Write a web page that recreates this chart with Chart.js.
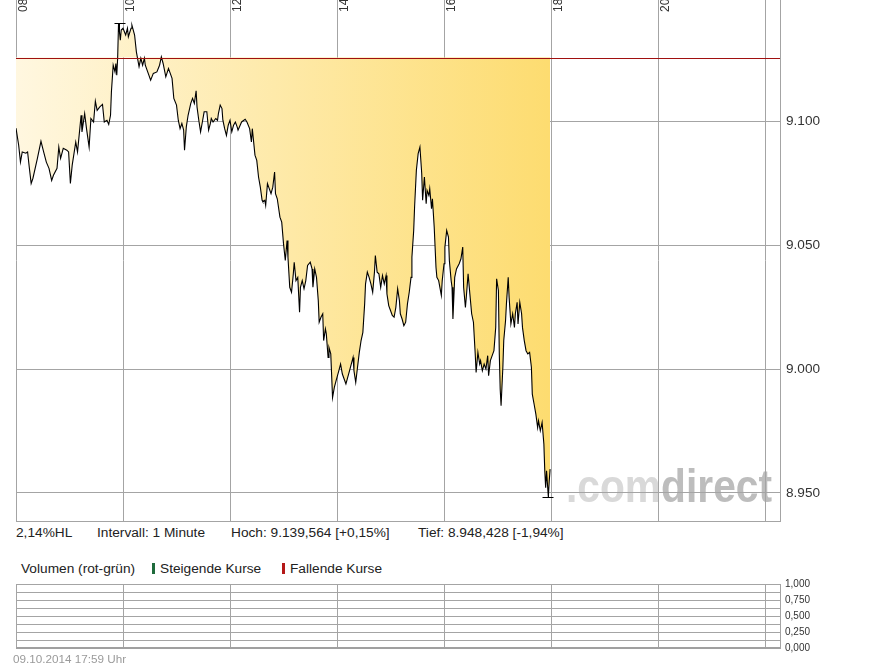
<!DOCTYPE html>
<html><head><meta charset="utf-8">
<script src="https://cdn.jsdelivr.net/npm/chart.js@4/dist/chart.umd.min.js"></script>
<style>
html,body{margin:0;padding:0;background:#fff;width:895px;height:669px;overflow:hidden;font-family:"Liberation Sans",Arial,sans-serif;}
#main{position:absolute;left:0;top:0;}
#vol{position:absolute;left:0;top:575px;}
.t{position:absolute;font-size:13.7px;line-height:15px;color:#222;white-space:nowrap;}
.bar{position:absolute;width:3px;height:11px;}
</style></head><body>
<canvas id="main" width="895" height="522"></canvas>
<div class="t" style="left:16px;top:525px">2,14%HL</div>
<div class="t" style="left:97px;top:525px">Intervall: 1 Minute</div>
<div class="t" style="left:231px;top:525px">Hoch: 9.139,564 [+0,15%]</div>
<div class="t" style="left:418px;top:525px">Tief: 8.948,428 [-1,94%]</div>
<div class="t" style="left:21px;top:561px">Volumen (rot-grün)</div>
<div class="bar" style="left:152px;top:563px;background:#1f6b3c"></div>
<div class="t" style="left:160px;top:561px">Steigende Kurse</div>
<div class="bar" style="left:282px;top:563px;background:#b41818"></div>
<div class="t" style="left:290px;top:561px">Fallende Kurse</div>
<canvas id="vol" width="895" height="80"></canvas>
<div class="t" style="left:13px;top:651px;font-size:11.7px;color:#9a9a9a">09.10.2014 17:59 Uhr</div>
<script>
// ---- data ----
const sessionStartHour = 8;
const minutes = [0,3,5,7,11,13,15,17,19,24,28,31,34,37,40,42,46,48,50,53,57,59,61,63,67,69,73,74,77,79,82,84,87,89,91,94,97,99,102,104,106,107,109,111,112,113,114,115,117,118,120,123,125,126,129,130,133,135,138,140,142,144,145,149,151,
154,158,161,163,165,168,171,173,175,177,180,182,184,186,188,189,191,193,196,198,200,202,203,205,207,209,211,214,216,218,219,221,224,226,227,229,231,232,234,236,238,240,242,244,246,248,249,253,257,259,262,264,265,268,270,272,274,276,277,279,280,282,284,286,288,290,291,293,296,298,300,302,304,305,
307,309,311,312,314,316,318,319,321,323,325,327,330,332,333,335,337,339,340,342,344,345,347,348,350,351,353,355,357,359,360,362,364,366,368,370,372,374,376,378,379,381,383,385,387,389,391,392,394,396,398,400,402,403,405,407,409,411,413,415,416,418,420,422,424,426,428,430,431,433,435,437,439,441,443,444,446,447,449,451,453,
455,456,458,460,461,463,464,466,467,469,471,472,474,477,478,480,481,483,485,486,488,489,490,492,494,497,499,501,502,504,505,507,509,511,513,515,516,518,520,521,523,525,527,529,530,532,534,536,538,539,541,542,543,544,546,547,549,550,552,553,555,557,559,560,562,563,565,567,568,570,572,574,576,578,579,581,583,585,586,588,590,592,593,594,595,597,598,599];
const prices = [9097.2,9090.3,9083.5,9087.6,9087.1,9087.6,9081.0,9074.9,9077.0,9085.0,9091.9,9087.6,9083.5,9081.0,9076.1,9078.2,9081.0,9089.6,9085.0,9089.1,9088.3,9087.6,9074.9,9082.2,9091.6,9087.6,9102.4,9095.7,9103.1,9097.2,9089.6,9101.1,9099.7,9108.1,9104.4,9105.8,9106.8,9099.7,9100.4,9098.7,9102.4,9111.8,9122.6,9119.9,9123.3,9118.6,9125.4,9139.6,9132.7,9136.8,9137.5,9134.8,9137.5,9134.1,9137.5,9138.8,9134.8,9128.0,9122.0,9125.4,9122.6,9125.4,9122.6,9118.6,9116.6,
9119.3,9119.9,9122.6,9126.0,9123.3,9117.9,9121.3,9119.3,9117.3,9109.2,9106.5,9100.4,9097.0,9099.1,9096.4,9088.3,9097.7,9102.4,9107.2,9109.2,9107.2,9112.3,9105.8,9100.4,9095.7,9099.7,9103.8,9103.8,9096.4,9099.1,9101.1,9099.7,9101.1,9100.4,9103.1,9106.5,9105.1,9100.4,9097.0,9094.3,9098.4,9100.4,9095.7,9098.4,9099.7,9097.7,9096.4,9099.7,9100.8,9099.7,9097.0,9091.6,9097.0,9086.3,9084.2,9077.5,9073.4,9068.1,9067.4,9068.1,9066.0,9074.8,9072.8,9070.8,9073.4,9079.5,9070.8,9068.7,9061.3,9059.3,9050.6,9043.8,9051.9,9045.1,
9033.0,9031.0,9038.4,9043.1,9035.7,9037.0,9022.9,9033.0,9035.7,9032.4,9035.7,9041.8,9043.1,9040.4,9033.0,9040.4,9037.0,9027.6,9018.9,9020.9,9022.3,9011.5,9016.2,9014.2,9004.7,9008.7,9006.1,8988.5,8992.6,8995.3,8996.6,8999.3,9002.0,8998.0,8996.0,8994.0,8996.6,8999.3,9002.0,9004.7,8999.3,8994.6,9000.7,9006.7,9011.5,9014.8,9026.3,9034.4,9039.1,9037.0,9034.4,9031.0,9039.1,9045.8,9039.1,9038.4,9033.0,9037.7,9034.4,9037.7,9030.3,9025.6,9023.6,9021.6,9020.9,9024.9,9032.4,9027.6,9022.3,9020.2,9017.5,9018.9,9026.3,9031.0,9037.0,9045.1,9055.9,9065.4,9080.2,9086.9,9089.6,
9078.9,9068.1,9077.5,9066.7,9072.1,9070.1,9072.8,9064.7,9068.7,9057.3,9041.1,9037.0,9035.7,9029.7,9035.7,9042.5,9049.2,9055.9,9053.2,9043.8,9035.7,9033.0,9020.2,9037.0,9040.4,9042.5,9044.5,9049.2,9033.0,9024.9,9029.0,9038.4,9030.3,9022.3,9018.9,9006.1,8998.6,9006.7,9002.0,9003.4,8999.3,9002.0,9000.0,9005.4,8997.3,9003.4,9005.4,9007.4,9016.8,9036.4,9031.7,9006.1,8991.9,8985.2,9000.7,9011.5,9019.5,9026.3,9037.0,9029.0,9018.2,9022.3,9016.8,9022.3,9026.9,9018.2,9026.9,9022.3,9016.8,9011.5,9007.4,9006.1,9006.7,9000.7,8989.9,8985.9,8981.8,8976.4,8979.1,8975.1,8978.4,8969.7,8958.9,8952.1,8958.9,8948.4,8954.8,8959.6];
const referencePrice = 9125.7;      // previous close
const highMinute = 115, highPrice = 9139.564;
const lowMinute = 597, lowPrice = 8948.428;
const xTickHours = [8,10,12,14,16,18,20];
const xTickLabels = ['08','10','12','14','16','18','20'];
const volumeValues = [];           // no volume bars shown

// ---- rendering ----
const GRID = '#a4a4a4';
const FONT = '"Liberation Sans", Arial, sans-serif';
const X_MIN = 8, X_MAX = 22.28;
const lineData = minutes.map((m,i)=>({x: sessionStartHour + m/60, y: prices[i]}));
const lastX = lineData[lineData.length-1].x;

function deFmt(v){ return String(Math.round(v)).replace(/\B(?=(\d{3})+(?!\d))/g,'.'); }
function noPad(s){ s.paddingTop=0; s.paddingBottom=0; s.paddingLeft=0; s.paddingRight=0; }

const mainDecor = {
  id:'mainDecor',
  beforeDraw(chart){
    const ctx = chart.ctx, ca = chart.chartArea;
    ctx.save();
    ctx.font = 'bold 47px ' + FONT;
    const a = '.com', b = 'direct';
    const wa = ctx.measureText(a).width, wb = ctx.measureText(b).width;
    const target = 206, sx = target/(wa+wb);
    ctx.translate(ca.right - 8 - target, ca.bottom - 19);
    ctx.scale(sx,1);
    ctx.textBaseline = 'alphabetic';
    ctx.fillStyle = '#d9d9d9'; ctx.fillText(a,0,0);
    ctx.fillStyle = '#bdbdbd'; ctx.fillText(b,wa,0);
    ctx.restore();
  },
  afterDatasetsDraw(chart){
    const ctx = chart.ctx, ca = chart.chartArea, xs = chart.scales.x, ys = chart.scales.y;
    ctx.save();
    // reference line
    const ry = Math.round(ys.getPixelForValue(referencePrice)) + 0.5;
    ctx.strokeStyle = '#a01010'; ctx.lineWidth = 1;
    ctx.beginPath(); ctx.moveTo(ca.left, ry); ctx.lineTo(ca.right, ry); ctx.stroke();
    // high / low markers
    ctx.strokeStyle = '#000';
    const hx = Math.round(xs.getPixelForValue(sessionStartHour + highMinute/60)) + 0.5;
    const hy = Math.round(ys.getPixelForValue(highPrice)) + 0.5;
    ctx.beginPath(); ctx.moveTo(hx-5, hy); ctx.lineTo(hx+6, hy); ctx.moveTo(hx, hy); ctx.lineTo(hx, hy+10); ctx.stroke();
    const lx = Math.round(xs.getPixelForValue(sessionStartHour + lowMinute/60)) + 0.5;
    const ly = Math.round(ys.getPixelForValue(lowPrice)) + 0.5;
    ctx.beginPath(); ctx.moveTo(lx-6, ly); ctx.lineTo(lx+5, ly); ctx.moveTo(lx, ly); ctx.lineTo(lx, ly-10); ctx.stroke();
    // border
    ctx.strokeStyle = GRID;
    ctx.beginPath(); ctx.moveTo(ca.left, ca.bottom+0.5); ctx.lineTo(ca.right, ca.bottom+0.5); ctx.stroke();
    // rotated time labels
    ctx.fillStyle = '#333'; ctx.font = '12px ' + FONT; ctx.textAlign = 'left'; ctx.textBaseline = 'alphabetic';
    xTickHours.forEach((h,i)=>{
      const gx = xs.getPixelForValue(h);
      ctx.save(); ctx.translate(gx + 11, 12); ctx.rotate(-Math.PI/2);
      ctx.fillText(xTickLabels[i], 0, 0); ctx.restore();
    });
    ctx.restore();
  }
};

new Chart(document.getElementById('main'), {
  type:'line',
  data:{ datasets:[{
    data: lineData,
    borderColor:'#000', borderWidth:1.1, pointRadius:0, tension:0,
    fill:{value: referencePrice},
    backgroundColor: (c)=>{
      const chart = c.chart, ca = chart.chartArea;
      if(!ca) return 'rgba(0,0,0,0)';
      const x1 = chart.scales.x.getPixelForValue(lastX);
      const g = chart.ctx.createLinearGradient(ca.left,0,x1,0);
      g.addColorStop(0,'#fff7e0'); g.addColorStop(1,'#fddc70');
      return g;
    }
  }]},
  options:{
    responsive:false, animation:false, devicePixelRatio:1,
    layout:{padding:{left:16,top:0,right:0,bottom:1}},
    plugins:{legend:{display:false}, tooltip:{enabled:false}},
    scales:{
      x:{type:'linear', position:'top', min:X_MIN, max:X_MAX, offset:false,
        ticks:{display:false, stepSize:2, includeBounds:false},
        grid:{color:GRID, drawTicks:false, lineWidth:1},
        border:{display:false},
        afterFit:(s)=>{s.height=0; noPad(s);}
      },
      y:{type:'linear', position:'right', min:8938.68, max:9148.92,
        ticks:{stepSize:50, includeBounds:false, padding:6, color:'#333', font:{family:FONT,size:13.6}, callback:(v)=>deFmt(v)},
        grid:{color:GRID, drawTicks:false},
        border:{display:true, color:GRID},
        afterFit:(s)=>{s.width=115; noPad(s);}
      }
    }
  },
  plugins:[mainDecor]
});

const volDecor = {
  id:'volDecor',
  afterDraw(chart){
    const ctx = chart.ctx, ca = chart.chartArea;
    ctx.save(); ctx.strokeStyle = '#a0a0a0'; ctx.lineWidth = 2;
    ctx.beginPath(); ctx.moveTo(ca.left, ca.bottom); ctx.lineTo(ca.right, ca.bottom); ctx.stroke();
    ctx.restore();
  }
};

new Chart(document.getElementById('vol'), {
  type:'bar',
  data:{ datasets:[{data: volumeValues, backgroundColor:'#1f6b3c'}]},
  options:{
    responsive:false, animation:false, devicePixelRatio:1,
    layout:{padding:{left:16,top:9,right:0,bottom:7}},
    plugins:{legend:{display:false}, tooltip:{enabled:false}},
    scales:{
      x:{type:'linear', position:'bottom', min:X_MIN, max:X_MAX, offset:false,
        ticks:{display:false, stepSize:2, includeBounds:false},
        grid:{color:GRID, drawTicks:false, offset:false},
        border:{display:false},
        afterFit:(s)=>{s.height=0; noPad(s);}
      },
      y:{type:'linear', position:'right', min:0, max:1,
        ticks:{stepSize:0.125, autoSkip:false, padding:5, color:'#333',
          font:{family:'"Liberation Sans Narrow", "Liberation Sans", Arial, sans-serif', size:10},
          callback:(v)=>{ const q=v/0.25; return Math.abs(q-Math.round(q))<1e-6 ? v.toFixed(3).replace('.',',') : ''; }},
        grid:{color:GRID, drawTicks:false},
        border:{display:true, color:GRID},
        afterFit:(s)=>{s.width=115; noPad(s);}
      }
    }
  },
  plugins:[volDecor]
});
</script>
</body></html>
